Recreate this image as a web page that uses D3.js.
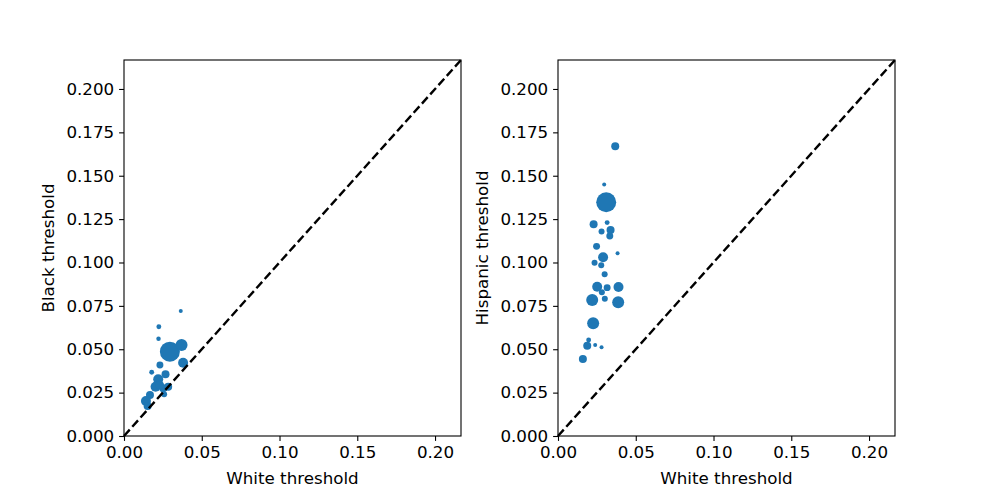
<!DOCTYPE html>
<html>
<head>
<meta charset="utf-8">
<script src="https://cdn.jsdelivr.net/npm/d3@7"></script>
<style>
  body { margin: 0; background: #fff; }
  text { font-family: "DejaVu Sans", sans-serif; }
</style>
</head>
<body>
<svg width="997" height="498"></svg>
<script>
// White vs Black thresholds (x, y, weight)
const blackX = [0.0365, 0.0224, 0.0222, 0.0295, 0.0370, 0.0380, 0.0231, 0.0178, 0.0220, 0.0267, 0.0203, 0.0252, 0.0258, 0.0167, 0.0141, 0.0152, 0.0284, 0.0230];
const blackY = [0.0720, 0.0630, 0.0560, 0.0486, 0.0524, 0.0422, 0.0409, 0.0367, 0.0327, 0.0356, 0.0284, 0.0275, 0.0240, 0.0236, 0.0202, 0.0173, 0.0284, 0.0294];
const blackW = [4, 6, 5, 100, 36, 25, 12, 6, 25, 16, 25, 16, 9, 16, 25, 16, 16, 18];

// White vs Hispanic thresholds
const hispX = [0.0368, 0.0297, 0.0310, 0.0229, 0.0316, 0.0338, 0.0280, 0.0333, 0.0248, 0.0383, 0.0290, 0.0235, 0.0278, 0.0300, 0.0252, 0.0316, 0.0389, 0.0282, 0.0220, 0.0301, 0.0387, 0.0226, 0.0197, 0.0188, 0.0239, 0.0280, 0.0160];
const hispY = [0.1670, 0.1450, 0.1347, 0.1220, 0.1230, 0.1187, 0.1178, 0.1153, 0.1093, 0.1053, 0.1030, 0.0999, 0.0984, 0.0932, 0.0860, 0.0855, 0.0859, 0.0828, 0.0784, 0.0791, 0.0771, 0.0650, 0.0553, 0.0520, 0.0524, 0.0511, 0.0444];
const hispW = [16, 4, 100, 16, 6, 16, 9, 12, 12, 4, 25, 9, 9, 9, 25, 12, 25, 9, 36, 9, 36, 36, 6, 16, 4, 4, 16];

const xTicks = [0, 0.05, 0.10, 0.15, 0.20];
const yTicks = [0, 0.025, 0.05, 0.075, 0.10, 0.125, 0.15, 0.175, 0.20];
const maxVal = 0.2167;

const svg = d3.select("svg");
const plotH = 376, plotW = 337, plotTop = 60;
const fontPx = 16.7;

const r = d3.scaleSqrt().domain([0, 100]).range([0, 10]);

function panel(left, xs, ys, ws, ylabel) {
    const x = d3.scaleLinear().domain([0, maxVal]).range([0, plotW]);
    const y = d3.scaleLinear().domain([0, maxVal]).range([plotH, 0]);
    const g = svg.append("g").attr("transform", `translate(${left},${plotTop})`);

    g.append("defs").append("clipPath").attr("id", "clip" + left)
        .append("rect").attr("width", plotW).attr("height", plotH);

    g.append("g").attr("clip-path", `url(#clip${left})`)
        .selectAll("circle")
        .data(xs.map((d, i) => [d, ys[i], ws[i]]))
        .join("circle")
        .attr("cx", d => x(d[0]))
        .attr("cy", d => y(d[1]))
        .attr("r", d => r(d[2]))
        .attr("fill", "#1f77b4");

    g.append("line")
        .attr("x1", x(0)).attr("y1", y(0))
        .attr("x2", x(maxVal)).attr("y2", y(maxVal))
        .attr("stroke", "#000").attr("stroke-width", 2.4)
        .attr("stroke-dasharray", "8.6,3.8");

    const xAxis = g.append("g").attr("transform", `translate(0,${plotH})`)
        .call(d3.axisBottom(x).tickValues(xTicks).tickFormat(d3.format(".2f")).tickSizeOuter(0).tickSize(4.9).tickPadding(4.9));
    const yAxis = g.append("g")
        .call(d3.axisLeft(y).tickValues(yTicks).tickFormat(d3.format(".3f")).tickSizeOuter(0).tickSize(4.9).tickPadding(4.9));
    [xAxis, yAxis].forEach(a => {
        a.select(".domain").remove();
        a.selectAll("line").attr("stroke", "#000").attr("stroke-width", 1.1);
        a.selectAll("text").attr("font-size", fontPx).attr("fill", "#000")
            .attr("font-family", "DejaVu Sans, sans-serif");
    });

    g.append("rect").attr("width", plotW).attr("height", plotH)
        .attr("fill", "none").attr("stroke", "#000").attr("stroke-width", 1.1);

    g.append("text").attr("x", plotW / 2).attr("y", plotH + 48)
        .attr("text-anchor", "middle").attr("font-size", fontPx).text("White threshold");
    g.append("text")
        .attr("transform", `translate(-70,${plotH / 2}) rotate(-90)`)
        .attr("text-anchor", "middle").attr("font-size", fontPx).text(ylabel);
}

panel(124, blackX, blackY, blackW, "Black threshold");
panel(558, hispX, hispY, hispW, "Hispanic threshold");
</script>
</body>
</html>
